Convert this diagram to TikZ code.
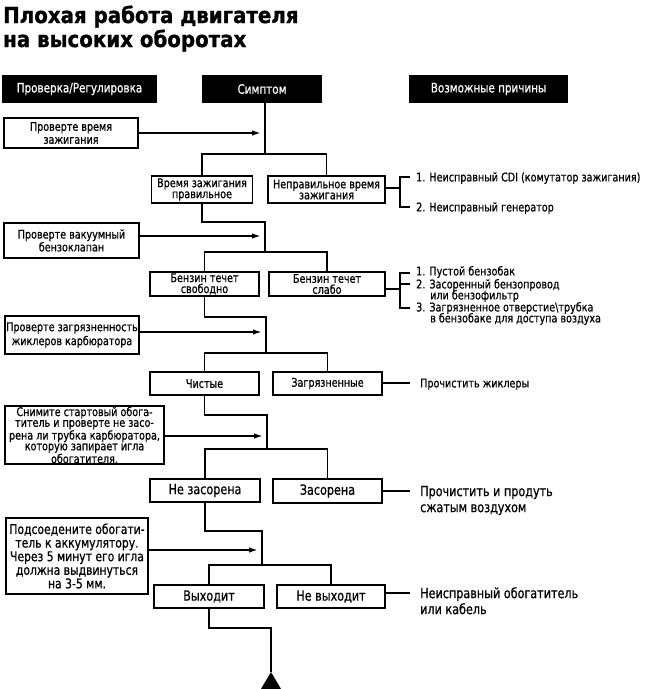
\documentclass[tikz,border=0pt]{standalone}
\usepackage{fontspec}
\setmainfont{DejaVu Sans}[FakeStretch=0.8,FakeBold=0.7]
\newfontfamily\ttlfam{DejaVu Sans}[FakeStretch=0.9,FakeBold=1.2]
\usetikzlibrary{arrows.meta}
\newcommand\smf{\fontsize{12}{11}\selectfont}
\newcommand\lgf{\fontsize{14}{16}\selectfont}
\newcommand\hdf{\fontsize{13}{15}\selectfont}
\newcommand\ttlf{\ttlfam\bfseries\fontsize{22}{24}\selectfont}
\begin{document}
\begin{tikzpicture}[x=1pt,y=-1pt,
  ln/.style={line width=1.7pt},
  box/.style={draw,line width=1.7pt,inner sep=0pt,align=center,font=\smf},
  bigbox/.style={box,font=\lgf},
  hdr/.style={fill=black,text=white,inner sep=0pt,minimum height=28pt,font=\hdf},
  arr/.style={ln,-{Latex[length=9pt,width=5.5pt]}},
  lbl/.style={anchor=base west,inner sep=0pt,font=\smf},
  biglbl/.style={lbl,font=\lgf},
  ttl/.style={anchor=base west,inner sep=0pt,font=\ttlf}
]
\useasboundingbox (0,0) rectangle (650,689);

% title
\node[ttl] (t1) at (3,23) {Плохая работа двигателя};
\node[ttl] (t2) at (3,47) {на высоких оборотах};

% headers
\node[hdr,minimum width=155pt] (hA) at (79.5,89) {Проверка/Регулировка};
\node[hdr,minimum width=120pt] (hB) at (262,89) {Симптом};
\node[hdr,minimum width=159pt] (hC) at (488.5,89) {Возможные причины};

% check boxes
\node[box,minimum width=134pt,minimum height=30pt,font=\fontsize{12}{13}\selectfont] (c1) at (71,133) {Проверте время\\зажигания};
\node[box,minimum width=135pt,minimum height=35pt] (c2) at (71.5,240.5) {Проверте вакуумный\\бензоклапан};
\node[box,minimum width=134pt,minimum height=38pt,font=\fontsize{12}{14}\selectfont] (c3) at (72,335) {Проверте загрязненность\\жиклеров карбюратора};
\node[box,minimum width=159pt,minimum height=58pt,font=\fontsize{12}{10.7}\selectfont] (c4) at (84.5,435) {Снимите стартовый обога-\\титель и проверте не засо-\\рена ли трубка карбюратора,\\которую запирает игла\\обогатителя.};
\node[box,minimum width=142pt,minimum height=76pt,font=\fontsize{13.5}{13.6}\selectfont] (c5) at (77,556) {Подсоедените обогати-\\тель к аккумулятору.\\Через 5 минут его игла\\должна выдвинуться\\на 3-5 мм.};

% symptom boxes
\node[box,minimum width=101pt,minimum height=27pt] (s1L) at (202,189.5) {Время зажигания\\правильное};
\node[box,minimum width=117pt,minimum height=27pt] (s1R) at (326.5,189.5) {Неправильное время\\зажигания};
\node[box,minimum width=109pt,minimum height=24pt] (s2L) at (204.5,284) {Бензин течет\\свободно};
\node[box,minimum width=116pt,minimum height=24pt] (s2R) at (327,284) {Бензин течет\\слабо};
\node[box,minimum width=109pt,minimum height=23pt] (s3L) at (204.5,383.5) {Чистые};
\node[box,minimum width=109pt,minimum height=23pt] (s3R) at (327.5,383.5) {Загрязненные};
\node[bigbox,minimum width=110pt,minimum height=23pt] (s4L) at (205,490.5) {Не засорена};
\node[bigbox,minimum width=109pt,minimum height=24pt] (s4R) at (327.5,491) {Засорена};
\node[bigbox,minimum width=110pt,minimum height=23pt] (s5L) at (209,596.5) {Выходит};
\node[bigbox,minimum width=108pt,minimum height=23pt] (s5R) at (331,596.5) {Не выходит};

% junction coordinates
\coordinate (b1) at (265,154);
\coordinate (a1) at (261,133);
\coordinate (k1) at (265,222);
\coordinate (b2) at (265,252);
\coordinate (a2) at (261,236);
\coordinate (k2) at (266,317);
\coordinate (b3) at (266,353);
\coordinate (a3) at (262,332);
\coordinate (k3) at (267,415);
\coordinate (b4) at (267,449);
\coordinate (a4) at (263,436);
\coordinate (k4) at (262,531);
\coordinate (b5) at (262,565);
\coordinate (a5) at (258,550);
\coordinate (k5) at (271,628);
\coordinate (apex) at (271,672);

% main flow
\draw[ln] (b1 |- hB.south) -- (b1);
\draw[arr] (c1.east |- a1) -- (a1);
\draw[ln] (s1L.north) |- (b1) -| (s1R.north);

\draw[ln] (s1L.south) |- (k1) -- (b2);
\draw[arr] (c2.east |- a2) -- (a2);
\draw[ln] (s2L.north) |- (b2) -| (s2R.north);

\draw[ln] (s2L.south) |- (k2) -- (b3);
\draw[arr] (c3.east |- a3) -- (a3);
\draw[ln] (s3L.north) |- (b3) -| (s3R.north);

\draw[ln] (s3L.south) |- (k3) -- (b4);
\draw[arr] (c4.east |- a4) -- (a4);
\draw[ln] (s4L.north) |- (b4) -| (s4R.north);

\draw[ln] (s4L.south) |- (k4) -- (b5);
\draw[arr] (c5.east |- a5) -- (a5);
\draw[ln] (s5L.north) |- (b5) -| (s5R.north);

\draw[ln] (s5L.south) |- (k5) -- (apex);
\fill (apex) -- (258,694) -- (284,694) -- cycle;

% causes, level 1
\coordinate (q1) at (400,188);
\coordinate (r1a) at (410,177);
\coordinate (r1b) at (410,207);
\draw[ln] (s1R.east |- q1) -- (q1);
\draw[ln] (r1a) -| (q1) |- (r1b);
\node[lbl] (p11) at (416,181.4) {1. Неисправный CDI (комутатор зажигания)};
\node[lbl] (p12) at (416,211.4) {2. Неисправный генератор};

% causes, level 2
\coordinate (q2) at (400,289);
\coordinate (r2a) at (410,273);
\coordinate (r2b) at (410,284);
\coordinate (r2c) at (410,308);
\draw[ln] (s2R.east |- q2) -- (q2);
\draw[ln] (r2a) -| (q2) |- (r2c);
\draw[ln] (r2b) -- (r2b -| q2);
\node[lbl] (p21) at (416,275.4) {1. Пустой бензобак};
\node[lbl] (p22) at (416,288.4) {2. Засоренный бензопровод};
\node[lbl] (p22b) at (430,299.4) {или бензофильтр};
\node[lbl] (p23) at (416,311.4) {3. Загрязненное отверстие\textbackslash трубка};
\node[lbl] (p23b) at (430,322.4) {в бензобаке для доступа воздуха};

% causes, level 3
\coordinate (q3) at (410,383);
\draw[ln] (s3R.east |- q3) -- (q3);
\node[lbl] (p3) at (420,387.4) {Прочистить жиклеры};

% causes, level 4
\coordinate (q4) at (410,491);
\draw[ln] (s4R.east |- q4) -- (q4);
\node[biglbl] (p4a) at (420,496.1) {Прочистить и продуть};
\node[biglbl] (p4b) at (420,512.1) {сжатым воздухом};

% causes, level 5
\coordinate (q5) at (410,593);
\draw[ln] (s5R.east |- q5) -- (q5);
\node[biglbl] (p5a) at (420,598.1) {Неисправный обогатитель};
\node[biglbl] (p5b) at (420,614.1) {или кабель};
\end{tikzpicture}
\end{document}
